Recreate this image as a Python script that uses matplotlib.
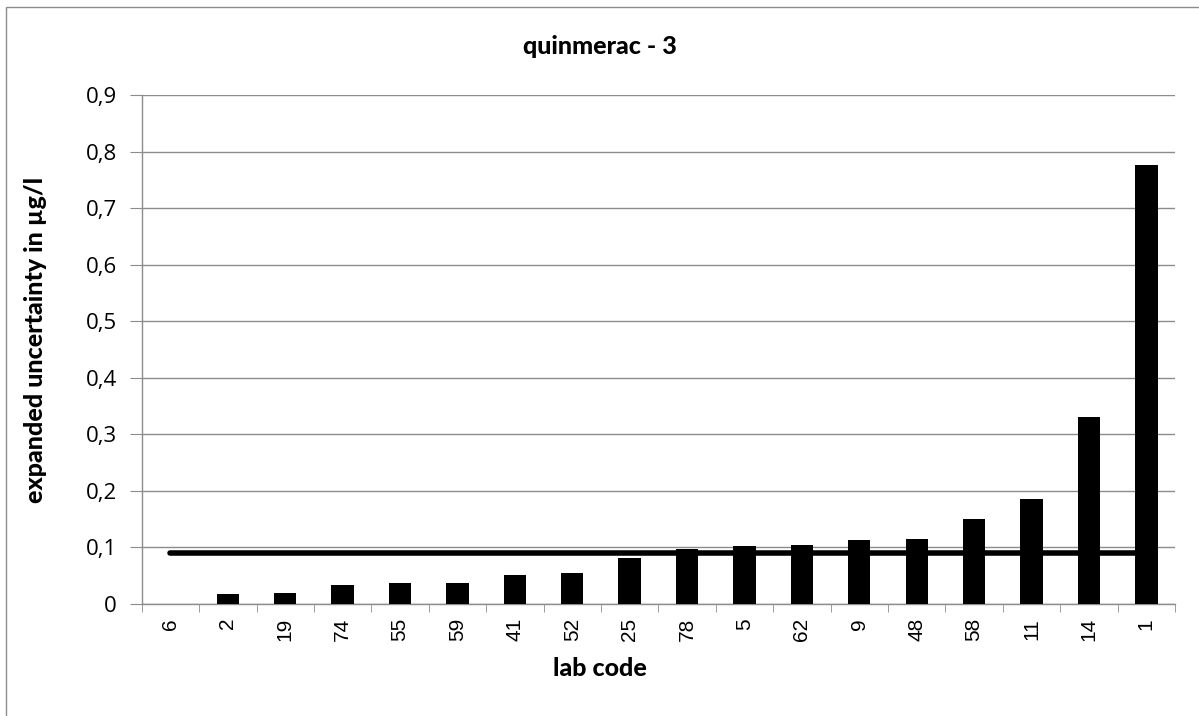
import matplotlib
matplotlib.use("Agg")
import matplotlib.pyplot as plt
from matplotlib.patches import Rectangle
from matplotlib.ticker import FuncFormatter, MultipleLocator
import numpy as np

# lab codes in plotted order and their expanded uncertainty (µg/l)
lab_codes = ["6", "2", "19", "74", "55", "59", "41", "52", "25",
             "78", "5", "62", "9", "48", "58", "11", "14", "1"]
uncertainty = [0.0, 0.017, 0.019, 0.034, 0.037, 0.037, 0.051, 0.054, 0.082,
               0.098, 0.103, 0.104, 0.114, 0.115, 0.151, 0.186, 0.330, 0.776]
reference_level = 0.09

TITLE = "quinmerac - 3"
XLABEL = "lab code"
YLABEL = "expanded uncertainty in µg/l"

GRID = "#8c8c8c"
LABEL_FONT = ["Lato", "DejaVu Sans"]

fig = plt.figure(figsize=(11.99, 7.16), dpi=100)
ax = fig.add_axes([0.1182, 0.1564, 0.9800 - 0.1182, 0.8670 - 0.1564])

# outer chart border (Excel-style)
fig.patches.append(Rectangle((6 / 1199, -0.01), 1.02, 1 - 7 / 716 + 0.01,
                             transform=fig.transFigure, fill=False,
                             edgecolor="#8c8c8c", linewidth=1.0))

x = np.arange(len(lab_codes))
ax.bar(x, uncertainty, width=0.39, color="black", zorder=3)
ax.plot(x, [reference_level] * len(x), color="black", linewidth=4,
        solid_capstyle="round", zorder=4)

ax.set_xlim(-0.5, len(lab_codes) - 0.5)
ax.set_ylim(0, 0.9)
ax.yaxis.set_major_locator(MultipleLocator(0.1))
ax.yaxis.set_major_formatter(
    FuncFormatter(lambda v, _: "0" if abs(v) < 1e-9 else f"{v:.1f}".replace(".", ",")))
ax.grid(True, axis="y", color=GRID, linewidth=1.0, zorder=0)

ax.set_xticks(x)
ax.set_xticklabels(lab_codes, rotation=90, fontsize=15, family="Liberation Sans")
ax.set_xticks(np.arange(-0.5, len(lab_codes)), minor=True)
ax.tick_params(axis="x", which="major", length=0, pad=10)
ax.tick_params(axis="x", which="minor", length=6, color=GRID)
ax.tick_params(axis="y", length=9, color=GRID, pad=9, labelsize=16)
for lbl in ax.get_yticklabels():
    lbl.set_family(["Open Sans", "DejaVu Sans"])

for side in ("top", "right"):
    ax.spines[side].set_visible(False)
for side in ("left", "bottom"):
    ax.spines[side].set_color(GRID)
    ax.spines[side].set_linewidth(1.0)

fig.text(0.5, 1 - 47 / 716, TITLE, ha="center", va="center",
         fontsize=18, fontweight=900, family=LABEL_FONT)
fig.text(0.5, 1 - 668 / 716, XLABEL, ha="center", va="center",
         fontsize=18, fontweight=900, family=LABEL_FONT)
fig.text(36 / 1199, 1 - 340 / 716, YLABEL, ha="center", va="center",
         rotation=90, fontsize=18, fontweight=900, family=LABEL_FONT)

fig.savefig("out.png", dpi=100)
